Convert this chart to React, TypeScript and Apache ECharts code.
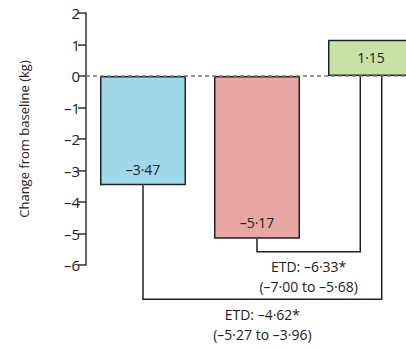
import React, { useEffect, useRef } from "react";
import * as echarts from "echarts";

// ---- data ----
const categories = ["Group A", "Group B", "Group C"];
const changeValues = [-3.47, -5.17, 1.15];
const barColors = ["#9fd8ea", "#e8a7a2", "#c8e2a5"];
const yTicks = [-6, -5, -4, -3, -2, -1, 0, 1, 2];

// estimated treatment differences (ETD) with 95% CI
const etdFrom = [1, 0]; // category index the bracket starts at
const etdTo = [2, 2]; // category index the bracket ends at
const etdValues = [-6.33, -4.62];
const etdLow = [-7.0, -5.27];
const etdHigh = [-5.68, -3.96];

// bracket layout (data-unit levels, band-fraction offsets)
const bracketLevel = [-5.58, -7.09];
const bracketOffset = [-0.094, 0.094];

const fmt = (v: number) => {
  const s = Math.abs(v).toFixed(2).replace(".", "·");
  return v < 0 ? "–" + s : s;
};

const FONT = "'Open Sans', 'Noto Sans', sans-serif";
const INK = "#222";

export default function App() {
  const ref = useRef<HTMLDivElement>(null);

  useEffect(() => {
    if (!ref.current) return;
    const chart = echarts.init(ref.current, undefined, { renderer: "svg" });

    const option: any = {
      animation: false,
      grid: { left: 86, right: 0, top: 13, bottom: 85 },
      xAxis: {
        type: "category",
        data: categories,
        axisLine: { show: false },
        axisTick: { show: false },
        axisLabel: { show: false },
        splitLine: { show: false },
      },
      yAxis: {
        type: "value",
        min: yTicks[0],
        max: yTicks[yTicks.length - 1],
        interval: 1,
        name: "Change from baseline (kg)",
        nameLocation: "middle",
        nameGap: 56,
        nameTextStyle: { fontFamily: FONT, fontSize: 13, color: INK },
        axisLine: { show: true, lineStyle: { color: "#333", width: 1.5 } },
        axisTick: { show: true, length: 8, lineStyle: { color: "#333", width: 1.5 } },
        axisLabel: {
          margin: 6,
          fontFamily: FONT,
          fontSize: 15,
          color: INK,
          formatter: (v: number) => (v < 0 ? "–" + Math.abs(v) : String(v)),
        },
        splitLine: { show: false },
      },
      series: [
        {
          type: "bar",
          barWidth: 86,
          data: changeValues.map((v, i) => ({
            value: v,
            itemStyle: { color: barColors[i] },
            label: {
              show: true,
              position: v < 0 ? "insideBottom" : "inside",
              distance: 9,
            },
          })),
          itemStyle: { borderColor: "#222", borderWidth: 1.5 },
          label: {
            fontFamily: FONT,
            fontSize: 14,
            color: INK,
            formatter: (p: any) => fmt(p.value),
          },
          markLine: {
            silent: true,
            symbol: "none",
            label: { show: false },
            lineStyle: { color: "#777", type: [4, 3], width: 1.5 },
            data: [{ yAxis: 0 }],
          },
        },
        {
          type: "custom",
          clip: false,
          silent: true,
          data: etdValues.map((v, i) => [etdFrom[i], changeValues[etdFrom[i]]]),
          renderItem: (params: any, api: any) => {
            const i = params.dataIndex;
            const band = api.size([1, 0])[0];
            const start = api.coord([etdFrom[i], changeValues[etdFrom[i]]]);
            const low = api.coord([etdFrom[i], bracketLevel[i]]);
            const end = api.coord([etdTo[i], 0]);
            const ex = end[0] + bracketOffset[i] * band;
            const y = low[1];
            const midX = (start[0] + ex) / 2;
            return {
              type: "group",
              children: [
                {
                  type: "polyline",
                  shape: {
                    points: [
                      [start[0], start[1]],
                      [start[0], y],
                      [ex, y],
                      [ex, end[1]],
                    ],
                  },
                  style: { stroke: INK, lineWidth: 1.5, fill: null },
                },
                {
                  type: "text",
                  x: midX,
                  y: y + 15,
                  style: {
                    text: "ETD: " + fmt(etdValues[i]) + "*",
                    fill: INK,
                    font: `14px ${FONT}`,
                    align: "center",
                    verticalAlign: "middle",
                  },
                },
                {
                  type: "text",
                  x: midX,
                  y: y + 35,
                  style: {
                    text: "(" + fmt(etdLow[i]) + " to " + fmt(etdHigh[i]) + ")",
                    fill: INK,
                    font: `14px ${FONT}`,
                    align: "center",
                    verticalAlign: "middle",
                  },
                },
              ],
            };
          },
        },
      ],
    };

    chart.setOption(option);
    return () => chart.dispose();
  }, []);

  return (
    <div
      style={{
        position: "absolute",
        left: 0,
        top: 0,
        width: 406,
        height: 350,
        overflow: "hidden",
        background: "#fff",
      }}
    >
      <div ref={ref} style={{ width: 428, height: 350 }} />
    </div>
  );
}
